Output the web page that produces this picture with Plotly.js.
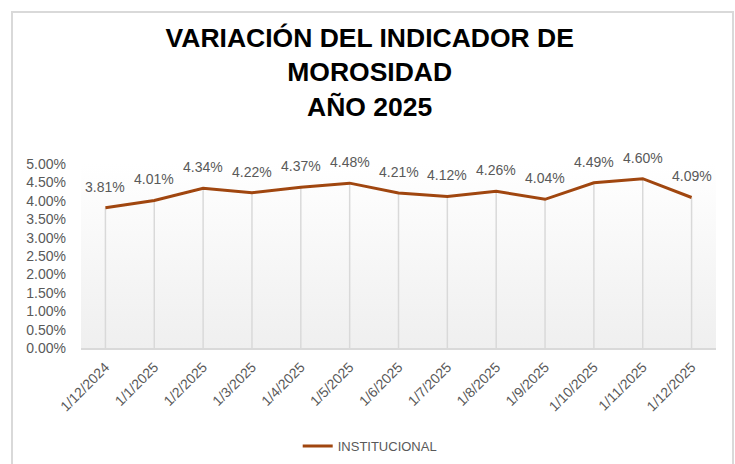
<!DOCTYPE html>
<html>
<head>
<meta charset="utf-8">
<script src="https://cdn.plot.ly/plotly-3.0.1.min.js"></script>
<style>
html,body{margin:0;padding:0;background:#fff;}
#wrap{position:relative;width:735px;height:464px;}
#chart{position:absolute;left:0;top:0;width:735px;height:464px;}
#frame{position:absolute;left:11px;top:11px;width:719px;height:470px;border-left:2px solid #d9d9d9;border-top:2px solid #d9d9d9;border-right:2px solid #d9d9d9;pointer-events:none;}
</style>
</head>
<body>
<div id="wrap"><div id="chart"></div><div id="frame"></div></div>
<script>
// ---- data ----
const categories = ["1/12/2024","1/1/2025","1/2/2025","1/3/2025","1/4/2025","1/5/2025","1/6/2025","1/7/2025","1/8/2025","1/9/2025","1/10/2025","1/11/2025","1/12/2025"];
const institucional = [3.81, 4.01, 4.34, 4.22, 4.37, 4.48, 4.21, 4.12, 4.26, 4.04, 4.49, 4.60, 4.09];
const seriesName = "INSTITUCIONAL";
const yTickVals = [0, 0.5, 1, 1.5, 2, 2.5, 3, 3.5, 4, 4.5, 5];
const yTickText = ["0.00%","0.50%","1.00%","1.50%","2.00%","2.50%","3.00%","3.50%","4.00%","4.50%","5.00%"];
const titleText = "VARIACIÓN DEL INDICADOR DE<br>MOROSIDAD<br>AÑO 2025";

const lineColor = "#a0460f";
const grey = "#595959";
const baseFont = "Liberation Sans, Arial, sans-serif";

const gradSvg = '<svg xmlns="http://www.w3.org/2000/svg" width="100" height="100" preserveAspectRatio="none"><defs><linearGradient id="g" x1="0" y1="0" x2="0" y2="1"><stop offset="0" stop-color="#ffffff"/><stop offset="1" stop-color="#efefef"/></linearGradient></defs><rect width="100" height="100" fill="url(#g)"/></svg>';

const trace = {
  x: categories,
  y: institucional,
  type: "scatter",
  mode: "lines",
  name: seriesName,
  line: {color: lineColor, width: 3},
  error_y: {
    type: "data", symmetric: false,
    array: institucional.map(() => 0),
    arrayminus: institucional,
    width: 0, thickness: 1.5, color: "#d9d9d9"
  },
  hoverinfo: "skip"
};

const annotations = categories.map((c, i) => ({
  x: c, y: institucional[i], xref: "x", yref: "y",
  text: institucional[i].toFixed(2) + "%",
  showarrow: false, yshift: 21,
  font: {family: baseFont, size: 14, color: grey}
}));

const layout = {
  width: 735, height: 464,
  margin: {l: 81, r: 19, t: 164, b: 116, pad: 0},
  paper_bgcolor: "rgba(0,0,0,0)",
  plot_bgcolor: "rgba(0,0,0,0)",
  title: {
    text: titleText,
    font: {family: baseFont, size: 26.5, color: "#000", weight: "bold"},
    x: 0.503, xref: "container", xanchor: "center",
    y: 1 - 47/464, yref: "container", yanchor: "top"
  },
  xaxis: {
    type: "category",
    range: [-0.5, categories.length - 0.5],
    tickangle: -45,
    showgrid: false, zeroline: false,
    showline: true, linecolor: "#d9d9d9", linewidth: 1.5,
    ticks: "", ticklabelstandoff: 4,
    tickfont: {family: baseFont, size: 14, color: grey},
    fixedrange: true
  },
  yaxis: {
    range: [0, 5],
    tickvals: yTickVals,
    ticktext: yTickText,
    showgrid: false, zeroline: false, showline: false,
    ticks: "", ticklabelstandoff: 14,
    tickfont: {family: baseFont, size: 14, color: grey},
    fixedrange: true
  },
  showlegend: true,
  legend: {
    orientation: "h", x: 0.503, xref: "container", xanchor: "center",
    y: 1 - 446/464, yref: "container", yanchor: "middle",
    font: {family: baseFont, size: 13, color: grey},
    itemwidth: 30
  },
  images: [{
    source: "data:image/svg+xml;charset=utf-8," + encodeURIComponent(gradSvg),
    xref: "paper", yref: "paper", x: 0, y: 1, sizex: 1, sizey: 1,
    sizing: "stretch", layer: "below", xanchor: "left", yanchor: "top"
  }],
  annotations: annotations
};

Plotly.newPlot("chart", [trace], layout, {displayModeBar: false, staticPlot: true});
</script>
</body>
</html>
